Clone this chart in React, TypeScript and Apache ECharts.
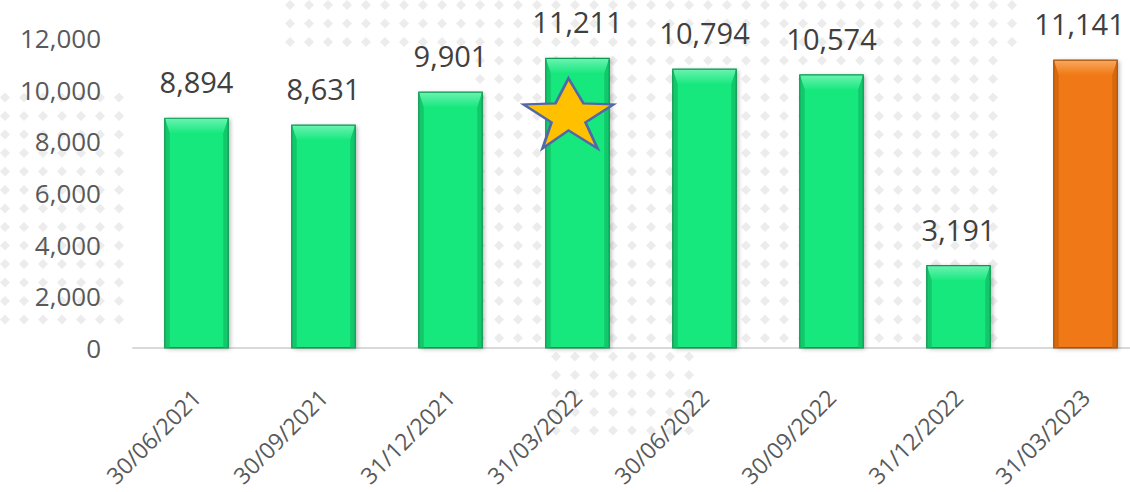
import React, { useEffect, useRef } from "react";
import * as echarts from "echarts";

const categories = [
  "30/06/2021",
  "30/09/2021",
  "31/12/2021",
  "31/03/2022",
  "30/06/2022",
  "30/09/2022",
  "31/12/2022",
  "31/03/2023",
];
const values = [8894, 8631, 9901, 11211, 10794, 10574, 3191, 11141];
const highlightIndex = 7;
const starIndex = 3;
const yTicks = { min: 0, max: 12000, interval: 2000 };

const green = { face: "#18E87E", hi: "#6CF3B2", side: "#12C86B", dark: "#0B9A50" };
const orange = { face: "#F07812", hi: "#F8A961", side: "#D8680C", dark: "#A85208" };

const starPath =
  "path://M45 0 L60 25 L90 26 L62 44 L74 70 L45 52 L19 70 L28 44 L0 26 L32 25 Z";

// decorative background dot areas [x0, y0, x1, y1]
const dotAreas = [
  [0, 90, 135, 320],
  [290, 0, 1030, 58],
  [480, 58, 1000, 340],
  [550, 350, 700, 445],
];

const fmt = (v: number) => v.toLocaleString("en-US");

function buildDots() {
  const pitchX = 19;
  const pitchY = 18.5;
  const r = 5;
  const children: any[] = [];
  const seen = new Set<string>();
  dotAreas.forEach(([x0, y0, x1, y1]) => {
    for (let k = Math.ceil((x0 - 5) / pitchX); 5 + k * pitchX <= x1; k++) {
      for (let j = Math.ceil((y0 - 5) / pitchY); 5 + j * pitchY <= y1; j++) {
        const key = k + "_" + j;
        if (seen.has(key)) continue;
        seen.add(key);
        const cx = 5 + k * pitchX;
        const cy = 5 + j * pitchY;
        children.push({
          type: "polygon",
          silent: true,
          shape: { points: [[cx, cy - r], [cx + r, cy], [cx, cy + r], [cx - r, cy]] },
          style: { fill: "#ECECEC" },
        });
      }
    }
  });
  return { type: "group", z: -10, silent: true, children };
}

export default function App() {
  const ref = useRef<HTMLDivElement>(null);
  useEffect(() => {
    if (!ref.current) return;
    const chart = echarts.init(ref.current, undefined, { renderer: "svg" });
    const font = "'Open Sans', 'Noto Sans', sans-serif";
    chart.setOption({
      animation: false,
      backgroundColor: "#ffffff",
      graphic: [buildDots()],
      grid: {
        left: 133,
        width: 1016,
        top: 38,
        bottom: 144,
        containLabel: false,
        outerBoundsMode: "none",
      },
      xAxis: {
        type: "category",
        data: categories,
        axisTick: { show: false },
        axisLine: { lineStyle: { color: "#D9D9D9", width: 2 } },
        axisLabel: {
          rotate: 45,
          margin: 45,
          fontSize: 23,
          fontFamily: font,
          color: "#595959",
        },
      },
      yAxis: {
        type: "value",
        min: yTicks.min,
        max: yTicks.max,
        interval: yTicks.interval,
        splitLine: { show: false },
        axisLine: { show: false },
        axisTick: { show: false },
        axisLabel: {
          margin: 32,
          fontSize: 26,
          fontFamily: font,
          color: "#595959",
          formatter: (v: number) => fmt(v),
        },
      },
      series: [
        {
          type: "bar",
          barWidth: "50%",
          data: values.map((v, i) => ({
            value: v,
            itemStyle: {
              color: i === highlightIndex ? orange.face : green.face,
              borderColor: i === highlightIndex ? orange.dark : green.dark,
              borderWidth: 1,
              shadowColor: "rgba(0,0,0,0.3)",
              shadowBlur: 4,
              shadowOffsetX: 2,
              shadowOffsetY: 1,
            },
            label: i === highlightIndex ? { offset: [-6, 0] } : undefined,
          })),
          label: {
            show: true,
            position: "top",
            distance: 22,
            fontSize: 29,
            fontFamily: font,
            color: "#404040",
            formatter: (p: any) => fmt(p.value),
          },
          markPoint: {
            silent: true,
            symbol: starPath,
            symbolKeepAspect: false,
            symbolSize: [90, 70],
            symbolOffset: [-9, 55],
            itemStyle: { color: "#FFC000", borderColor: "#5068A8", borderWidth: 2.5 },
            label: { show: false },
            data: [{ coord: [starIndex, values[starIndex]] }],
            z: 10,
          },
          z: 2,
        },
        {
          type: "custom",
          silent: true,
          z: 3,
          data: values.map((v, i) => [i, v]),
          renderItem: (params: any, api: any) => {
            const i = api.value(0);
            const v = api.value(1);
            const top = api.coord([i, v]);
            const base = api.coord([i, 0]);
            const w = api.size([1, 0])[0] * 0.5;
            const L = top[0] - w / 2;
            const R = top[0] + w / 2;
            const T = top[1];
            const B = base[1];
            const b = Math.min(15, (B - T) / 3);
            const s = 5;
            const pal = i === highlightIndex ? orange : green;
            return {
              type: "group",
              children: [
                {
                  type: "polygon",
                  shape: { points: [[L, T], [R, T], [R - s, T + b], [L + s, T + b]] },
                  style: {
                    fill: new echarts.graphic.LinearGradient(0, 0, 0, 1, [
                      { offset: 0, color: pal.hi },
                      { offset: 1, color: pal.face },
                    ]),
                  },
                },
                {
                  type: "polygon",
                  shape: { points: [[L, T], [L + s, T + b], [L + s, B], [L, B]] },
                  style: { fill: pal.side },
                },
                {
                  type: "polygon",
                  shape: { points: [[R, T], [R, B], [R - s, B], [R - s, T + b]] },
                  style: { fill: pal.side },
                },
                {
                  type: "rect",
                  shape: { x: L, y: T, width: R - L, height: B - T },
                  style: { fill: "none", stroke: pal.dark, lineWidth: 1.2 },
                },
              ],
            };
          },
        },
      ],
    });
    return () => chart.dispose();
  }, []);
  return (
    <div
      ref={ref}
      style={{ position: "fixed", left: 0, top: 0, width: 1130, height: 492 }}
    />
  );
}
